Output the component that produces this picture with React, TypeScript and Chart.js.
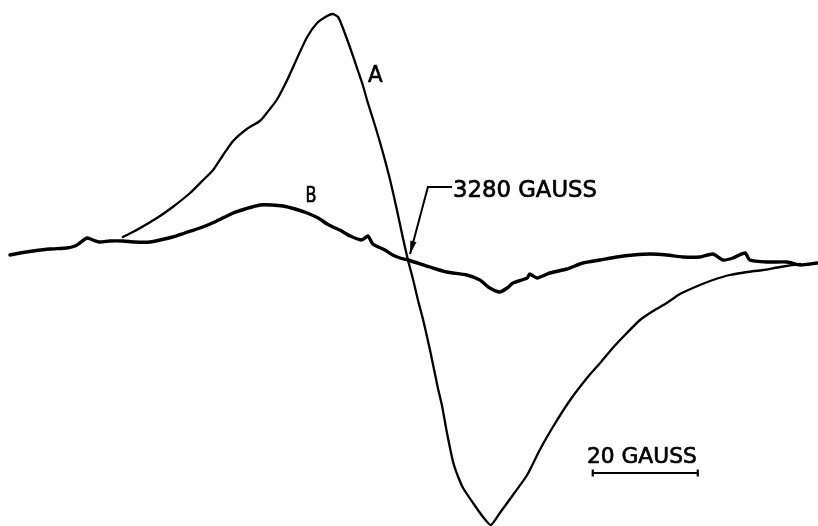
import React, { useEffect, useRef } from "react";
import { Chart, registerables } from "chart.js";

Chart.register(...registerables);

// Field is expressed as offset (gauss) from the 3280 G crossing point
const CENTER_FIELD = 3280;
const FIELD_MIN = -77.7;
const FIELD_MAX = 78.1;
const SIGNAL_MIN = -266;
const SIGNAL_MAX = 260;

// Curve A (derivative EPR signal, strong)
const aOffset = [-54.3, -52.4, -51.0, -47.8, -44.8, -41.5, -39.0, -37.1, -35.2, -33.3, -30.7, -28.2, -26.9, -25.0, -23.0, -21.1, -19.2, -17.3, -15.4, -14.3, -13.3, -12.4, -11.0, -9.7, -8.6, -7.8, -6.9, -5.9, -4.8, -3.4, -2.1, -1.0, 0, 1.0, 1.9, 2.9, 4.2, 5.7, 6.5, 7.4, 8.6, 9.5, 10.5, 12.4, 14.3, 15.8, 17.5, 20.0, 22.7, 25.1, 27.6, 30.9, 34.1, 36.6, 39.0, 41.7, 44.2, 46.7, 49.3, 51.8, 55.6, 58.1, 61.3, 64.6, 67.6, 70.9, 74.7];
const aSignal = [23, 28, 32, 42, 53, 67, 80, 90, 105, 119, 131, 139, 147, 160, 180, 202, 223, 237, 244, 246, 243, 232, 212, 192, 175, 160, 145, 128, 108, 80, 50, 23, 0, -20, -40, -60, -90, -128, -146, -172, -202, -216, -228, -243, -257, -265, -253, -235, -215, -190, -167, -140, -118, -103, -88, -73, -60, -51, -43, -34, -25, -20, -15, -12, -10, -7, -4];

// Curve B (weak signal)
const bOffset = [-75.8, -73.9, -71.4, -68.2, -65.0, -63.4, -62.5, -61.5, -61.0, -60.0, -58.7, -56.8, -54.3, -52.0, -49.1, -47.2, -44.8, -42.5, -39.6, -36.8, -33.3, -31.0, -28.2, -25.9, -23.8, -21.5, -19.2, -17.1, -15.4, -14.3, -13.0, -11.0, -8.8, -7.6, -6.7, -4.4, -2.9, -1.5, 0, 4.2, 7.4, 11.2, 13.7, 15.6, 17.5, 18.9, 20.0, 22.7, 23.2, 24.6, 27.0, 30.3, 33.3, 36.6, 39.8, 42.9, 46.1, 49.3, 52.4, 55.6, 58.1, 60.0, 61.9, 64.2, 65.1, 68.4, 72.2, 74.7, 77.9];
const bSignal = [5, 7, 9, 11, 12, 14, 17, 21, 22, 20, 18, 19, 19, 18, 18, 20, 23, 27, 32, 38, 47, 51, 55, 55, 54, 51, 47, 42, 36, 33, 30, 24, 20, 24, 16, 10, 5, 2, 0, -7, -12, -15, -20, -28, -32, -28, -23, -18, -14, -18, -13, -9, -3, 0, 3, 5, 6, 5, 3, 3, 6, 0, 2, 7, 0, -2, -2, -5, -3];

const SCALE_BAR_GAUSS = 20;

const annotate = {
  id: "annotate",
  afterDatasetsDraw(chart: any) {
    const { ctx, scales } = chart;
    const X = (g: number) => scales.x.getPixelForValue(CENTER_FIELD + g);
    const Y = (v: number) => scales.y.getPixelForValue(v);
    ctx.save();
    ctx.fillStyle = "#000";
    ctx.strokeStyle = "#000";

    const text = (str: string, g0: number, g1: number, base: number, size: number) => {
      ctx.font = `${size}px "DejaVu Sans"`;
      ctx.textAlign = "left";
      ctx.textBaseline = "alphabetic";
      const w = ctx.measureText(str).width;
      const target = X(g1) - X(g0);
      ctx.save();
      ctx.translate(X(g0), Y(base));
      ctx.scale(target / w, 1);
      ctx.lineWidth = 0.7;
      ctx.lineJoin = "round";
      ctx.fillText(str, 0, 0);
      ctx.strokeText(str, 0, 0);
      ctx.restore();
    };

    text("A", -7.6, -4.8, 178, 23);
    text("B", -19.5, -17.4, 58, 21);
    text("3280 GAUSS", 8.6, 36.0, 63, 23);
    text("20 GAUSS", 34.1, 55.0, -203, 22);

    // leader line with arrow to the crossing point
    ctx.lineWidth = 2;
    ctx.lineJoin = "miter";
    const p0 = [X(8.4), Y(73)];
    const p1 = [X(3.8), Y(73)];
    const tip = [X(0.4), Y(6)];
    ctx.beginPath();
    ctx.moveTo(p0[0], p0[1]);
    ctx.lineTo(p1[0], p1[1]);
    ctx.lineTo(tip[0], tip[1]);
    ctx.stroke();
    const dx = tip[0] - p1[0];
    const dy = tip[1] - p1[1];
    const len = Math.hypot(dx, dy);
    const ux = dx / len, uy = dy / len;
    const ah = 13, aw = 3.2;
    const bx = tip[0] - ux * ah, by = tip[1] - uy * ah;
    ctx.beginPath();
    ctx.moveTo(tip[0], tip[1]);
    ctx.lineTo(bx - uy * aw, by + ux * aw);
    ctx.lineTo(bx + uy * aw, by - ux * aw);
    ctx.closePath();
    ctx.fill();

    // scale bar
    const s0 = 35.2;
    const s1 = s0 + SCALE_BAR_GAUSS;
    ctx.lineWidth = 2.2;
    ctx.beginPath();
    ctx.moveTo(X(s0), Y(-213));
    ctx.lineTo(X(s1), Y(-213));
    ctx.moveTo(X(s0), Y(-209.5));
    ctx.lineTo(X(s0), Y(-216.5));
    ctx.moveTo(X(s1), Y(-209.5));
    ctx.lineTo(X(s1), Y(-216.5));
    ctx.stroke();
    ctx.restore();
  },
};

export default function App() {
  const ref = useRef<HTMLCanvasElement | null>(null);
  useEffect(() => {
    if (!ref.current) return;
    const chart = new Chart(ref.current, {
      type: "line",
      data: {
        datasets: [
          {
            label: "A",
            data: aOffset.map((d, i) => ({ x: CENTER_FIELD + d, y: aSignal[i] })),
            borderColor: "#000",
            borderWidth: 2.3,
            pointRadius: 0,
            tension: 0.2,
            fill: false,
            clip: false as any,
            borderCapStyle: "round",
            borderJoinStyle: "round",
          },
          {
            label: "B",
            data: bOffset.map((d, i) => ({ x: CENTER_FIELD + d, y: bSignal[i] })),
            borderColor: "#000",
            borderWidth: 3.4,
            pointRadius: 0,
            tension: 0.2,
            fill: false,
            clip: false as any,
            borderCapStyle: "round",
            borderJoinStyle: "round",
          },
        ],
      },
      options: {
        animation: false,
        responsive: false,
        maintainAspectRatio: false,
        events: [],
        layout: { padding: 0 },
        plugins: { legend: { display: false }, tooltip: { enabled: false } },
        scales: {
          x: { type: "linear", min: CENTER_FIELD + FIELD_MIN, max: CENTER_FIELD + FIELD_MAX, display: false },
          y: { type: "linear", min: SIGNAL_MIN, max: SIGNAL_MAX, display: false },
        },
      },
      plugins: [annotate],
    });
    return () => chart.destroy();
  }, []);
  return (
    <div style={{ position: "absolute", left: 0, top: 0, width: 818, height: 526, background: "#fff" }}>
      <canvas ref={ref} width={818} height={526} style={{ display: "block" }} />
    </div>
  );
}
